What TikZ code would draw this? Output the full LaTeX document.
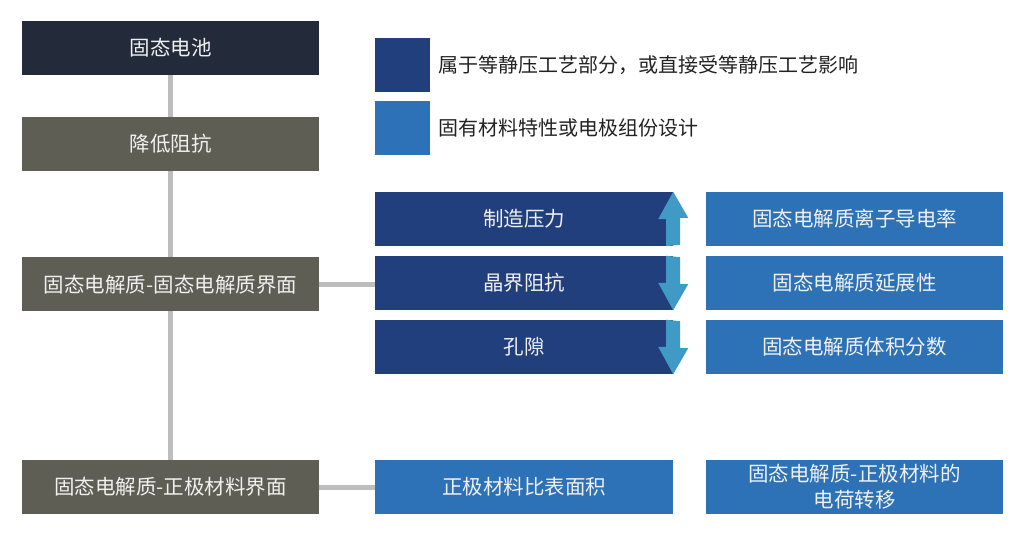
\documentclass[tikz,border=0pt]{standalone}
\usepackage{fontspec}
\setmainfont{Noto Sans CJK SC}
\usetikzlibrary{positioning,backgrounds}
\definecolor{cTop}{HTML}{232B3A}
\definecolor{cLevel}{HTML}{5F5E55}
\definecolor{cProcess}{HTML}{223F7D}
\definecolor{cMaterial}{HTML}{2D71B6}
\definecolor{cArrow}{HTML}{3F9AC6}
\definecolor{cLink}{HTML}{BDBDBD}
\definecolor{cLegend}{HTML}{222222}

\tikzset{
  box/.style={minimum height=54pt, inner sep=0pt, text=white!94!black,
    font=\fontsize{20.5pt}{26pt}\selectfont, align=center},
  levelbox/.style={box, minimum width=297pt, fill=cLevel},
  procbox/.style={box, minimum width=298pt, fill=cProcess},
  matbox/.style={box, minimum width=297pt, fill=cMaterial},
  swatch/.style={minimum width=55pt, minimum height=54pt, inner sep=0pt},
  legendtext/.style={anchor=west, text=cLegend, font=\fontsize{20pt}{24pt}\selectfont},
  link/.style={cLink, line width=5pt}
}

\begin{document}
\begin{tikzpicture}[x=1pt, y=-1pt]
\useasboundingbox (0,0) rectangle (1012,534);

% Left column
\node[levelbox, fill=cTop] (battery) at (170.5,48) {固态电池};
\node[levelbox] (lowerR) at (170.5,144) {降低阻抗};
\node[levelbox] (sesei) at (170.5,284.5) {固态电解质-固态电解质界面};
\node[levelbox] (secat) at (170.5,487) {固态电解质-正极材料界面};

% Legend
\node[swatch, fill=cProcess] (swProc) at (402.5,65) {};
\node[swatch, fill=cMaterial] (swMat) at (402.5,128) {};
\node[legendtext] (lgProc) at (435,65) {属于等静压工艺部分，或直接受等静压工艺影响};
\node[legendtext] (lgMat) at (435,128) {固有材料特性或电极组份设计};

% Middle column
\node[procbox] (pressure) at (524,219) {制造压力};
\node[procbox] (grainR) at (524,283) {晶界阻抗};
\node[procbox] (pores) at (524,347) {孔隙};
\node[matbox, minimum width=298pt] (surface) at (524,487) {正极材料比表面积};

% Right column
\node[matbox] (ionic) at (854.5,219) {固态电解质离子导电率};
\node[matbox] (ductile) at (854.5,283) {固态电解质延展性};
\node[matbox] (volfrac) at (854.5,347) {固态电解质体积分数};
\node[matbox] (charge) at (854.5,487) {固态电解质-正极材料的\\电荷转移};

% Connectors
\begin{scope}[on background layer]
\draw[link] (battery.south) -- (secat.north);
\end{scope}
\draw[link] (sesei.east) -- (sesei.east -| grainR.west);
\draw[link] (secat.east) -- (surface.west);

% Trend arrows on the edge of the process boxes
\fill[cArrow] (pressure.south east) ++(-7,0) -- ++(0,-27) -- ++(-8,0)
  -- (pressure.north east) -- ++(15,26) -- ++(-8,0) -- ++(0,27) -- cycle;
\foreach \b in {grainR, pores} {
  \fill[cArrow] (\b.north east) ++(-7,0) -- ++(0,27) -- ++(-8,0)
    -- (\b.south east) -- ++(15,-26) -- ++(-8,0) -- ++(0,-27) -- cycle;
}

\end{tikzpicture}
\end{document}
